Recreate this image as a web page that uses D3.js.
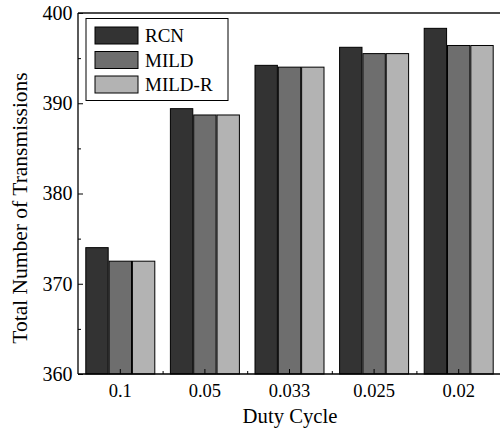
<!DOCTYPE html>
<html>
<head>
<meta charset="utf-8">
<script src="https://cdn.jsdelivr.net/npm/d3@7"></script>
<style>
html,body{margin:0;padding:0;background:#fff;}
svg{display:block;}
text{font-family:"Liberation Serif";fill:#000;}
</style>
</head>
<body>
<svg id="chart" width="500" height="430"></svg>
<script>
const categories = ["0.1", "0.05", "0.033", "0.025", "0.02"];
const seriesNames = ["RCN", "MILD", "MILD-R"];
const rcn   = [374.0, 389.4, 394.2, 396.2, 398.3];
const mild  = [372.5, 388.7, 394.0, 395.5, 396.4];
const mildR = [372.5, 388.7, 394.0, 395.5, 396.4];
const yTicks = [360, 370, 380, 390, 400];
const yMinorTicks = [365, 375, 385, 395];
const colors = ["#333333", "#6e6e6e", "#b3b3b3"];

(function () {
const seriesValues = [rcn, mild, mildR];
const svg = d3.select("#chart");
const pLeft = 78, pRight = 501, pTop = 13, pBottom = 374;
const FONT = '"Liberation Serif"';

const x0 = d3.scaleBand().domain(categories).range([pLeft, pRight]).padding(0);
const bw = x0.bandwidth();
const groupW = 69;
const x1 = d3.scaleBand().domain(seriesNames).range([(bw - groupW) / 2, (bw + groupW) / 2]).paddingInner(0.04);
const y = d3.scaleLinear().domain([360, 400]).range([pBottom, pTop]);

// bars
const groups = svg.append("g").selectAll("g").data(categories).join("g")
  .attr("transform", d => `translate(${x0(d)},0)`);
groups.selectAll("rect")
  .data((c, i) => seriesNames.map((s, j) => ({s, j, v: seriesValues[j][i]})))
  .join("rect")
  .attr("x", d => x1(d.s))
  .attr("width", x1.bandwidth())
  .attr("y", d => y(d.v))
  .attr("height", d => y(360) - y(d.v))
  .attr("fill", d => colors[d.j])
  .attr("stroke", "#000")
  .attr("stroke-width", 1);

// y axis (ticks inward)
const yAxis = svg.append("g").attr("transform", `translate(${pLeft},0)`)
  .call(d3.axisRight(y).tickValues(yTicks).tickSize(5).tickFormat(""));
yAxis.select(".domain").remove();
yAxis.selectAll("line").attr("stroke", "#000");
svg.append("g").attr("transform", `translate(${pLeft},0)`)
  .call(d3.axisRight(y).tickValues(yMinorTicks).tickSize(3).tickFormat(""))
  .call(g => g.select(".domain").remove())
  .selectAll("line").attr("stroke", "#000");
const yLab = svg.append("g").attr("transform", `translate(${pLeft},0)`)
  .call(d3.axisLeft(y).tickValues(yTicks).tickSize(0).tickPadding(5.5));
yLab.select(".domain").remove();
yLab.attr("font-family", null);
yLab.selectAll("text").style("font-family", FONT).style("font-size", "20px");

// x axis (ticks inward)
const xAxis = svg.append("g").attr("transform", `translate(0,${pBottom})`)
  .call(d3.axisTop(x0).tickSize(5).tickFormat(""));
xAxis.select(".domain").remove();
xAxis.selectAll("line").attr("stroke", "#000");
svg.append("g").attr("transform", `translate(0,${pBottom})`)
  .call(d3.axisTop(d3.scaleLinear().domain([0, categories.length]).range([pLeft, pRight]))
    .tickValues(d3.range(1, categories.length)).tickSize(3).tickFormat(""))
  .call(g => g.select(".domain").remove())
  .selectAll("line").attr("stroke", "#000");
const xLab = svg.append("g").attr("transform", `translate(0,${pBottom})`)
  .call(d3.axisBottom(x0).tickSize(0).tickPadding(9.5));
xLab.select(".domain").remove();
xLab.attr("font-family", null);
xLab.selectAll("text").style("font-family", FONT).style("font-size", "18.5px");

// frame lines
svg.append("line").attr("x1", pLeft).attr("x2", 500).attr("y1", pTop).attr("y2", pTop)
  .attr("stroke", "#111").attr("stroke-width", 1.6);
svg.append("line").attr("x1", pLeft).attr("x2", pLeft).attr("y1", pTop).attr("y2", pBottom)
  .attr("stroke", "#000").attr("stroke-width", 1.3);
svg.append("line").attr("x1", pLeft).attr("x2", 500).attr("y1", pBottom).attr("y2", pBottom)
  .attr("stroke", "#000").attr("stroke-width", 1.3);

// axis titles
svg.append("text").attr("x", 290).attr("y", 422.5)
  .attr("text-anchor", "middle").style("font-family", FONT).style("font-size", "20.7px").text("Duty Cycle");
svg.append("text").attr("transform", "translate(26.5,208) rotate(-90)")
  .attr("text-anchor", "middle").style("font-family", FONT).style("font-size", "21.5px").text("Total Number of Transmissions");

// legend
const lg = svg.append("g");
lg.append("rect").attr("x", 86).attr("y", 18.5).attr("width", 142).attr("height", 82)
  .attr("fill", "#fff").attr("stroke", "#000").attr("stroke-width", 1);
seriesNames.forEach((s, i) => {
  const yy = 27 + i * 24.5;
  lg.append("rect").attr("x", 95).attr("y", yy).attr("width", 43).attr("height", 17)
    .attr("fill", colors[i]).attr("stroke", "#000").attr("stroke-width", 1);
  lg.append("text").attr("x", 145).attr("y", yy + 15).style("font-family", FONT).style("font-size", "19px").text(s);
});
})();
</script>
</body>
</html>
